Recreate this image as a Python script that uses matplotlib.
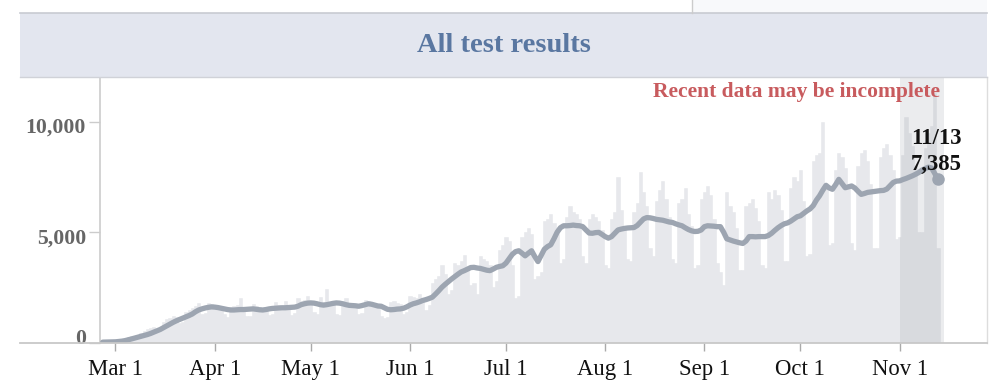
import numpy as np
import pandas as pd
import matplotlib
matplotlib.use('Agg')
import matplotlib.pyplot as plt
import matplotlib.dates as mdates
import matplotlib.transforms as mtransforms
from matplotlib.lines import Line2D
from matplotlib.patches import Rectangle

plt.rcParams['font.family'] = ['Liberation Serif', 'DejaVu Serif']

# daily test results, starting Wed Feb 26 2020 (rows are Sun..Sat weeks)
first_day = '2020-02-26'
daily_tests = [
    30, 45, 40, 25,
    35, 80, 130, 190, 260, 320, 230,
    280, 450, 520, 600, 660, 720, 560,
    640, 950, 1050, 1120, 1200, 1150, 900,
    950, 1400, 1500, 1550, 1650, 1800, 1300,
    1350, 1800, 1750, 1700, 1650, 1600, 1300,
    1150, 1600, 1650, 1700, 2000, 1500, 1200,
    1200, 1750, 1650, 1600, 1550, 1500, 1250,
    1300, 1850, 1700, 1650, 1900, 1600, 1250,
    1350, 2000, 1900, 1950, 2100, 1800, 1400,
    1300, 2050, 1850, 2450, 1800, 1750, 1300,
    1250, 1900, 2000, 1800, 1750, 1700, 1300,
    1350, 1950, 1900, 1850, 1800, 1700, 1200,
    1100, 1150, 1850, 1900, 1800, 1750, 1300,
    1400, 2100, 2050, 2000, 2200, 2000, 1500,
    1700, 2700, 2900, 3000, 3500, 3100, 2200,
    2400, 3600, 3500, 3700, 3950, 3400, 2600,
    2700, 2200, 3900, 3800, 3700, 3500, 2500,
    2800, 4200, 4400, 4800, 4600, 3500, 2000,
    2100, 4800, 5000, 5200, 4900, 2900, 3000,
    3200, 5500, 5600, 5800, 5400, 5200, 3600,
    3800, 5700, 6200, 5900, 5800, 5600, 3900,
    3600, 5600, 5800, 5700, 5500, 5100, 3500,
    3400, 5600, 5900, 7500, 6000, 5300, 3800,
    3700, 5900, 6300, 7700, 6800, 6200, 4300,
    3900, 6400, 6900, 7300, 6500, 5700, 3800,
    3600, 6300, 6500, 7000, 5800, 5300, 3400,
    3500, 6500, 6800, 7100, 6700, 5600, 3600,
    3200, 2600, 6800, 6200, 5900, 5200, 3300,
    3300, 6200, 6300, 6500, 6100, 5500, 3500,
    3400, 6800, 6500, 6900, 6700, 6000, 3700,
    3700, 7000, 7500, 7300, 7800, 6400, 3900,
    4000, 8200, 8500, 8600, 10000, 7000, 4400,
    4500, 7800, 8600, 8400, 7900, 7200, 4500,
    4200, 8000, 8600, 8700, 8200, 7200, 4300,
    4300, 8400, 8800, 9000, 8500, 7800, 4700,
    4800, 8500, 10200, 9500, 8900, 8000, 5000,
    5000, 8800, 9500, 9800, 11300, 4300,
]

# 7-day average as drawn on the chart
avg_tests = [
    25, 28, 30, 32,
    40, 55, 70, 95, 130, 170, 210,
    250, 290, 330, 370, 420, 480, 540,
    600, 680, 760, 840, 920, 990, 1050,
    1110, 1170, 1230, 1300, 1400, 1480, 1530,
    1570, 1600, 1620, 1610, 1590, 1560, 1530,
    1500, 1480, 1480, 1490, 1500, 1500, 1510,
    1520, 1530, 1510, 1490, 1480, 1500, 1530,
    1550, 1560, 1570, 1580, 1580, 1590, 1600,
    1610, 1650, 1720, 1760, 1790, 1800, 1790,
    1760, 1720, 1700, 1720, 1750, 1780, 1800,
    1790, 1760, 1720, 1690, 1680, 1670, 1650,
    1680, 1720, 1760, 1740, 1700, 1660, 1650,
    1580, 1510, 1490, 1500, 1520, 1530, 1560,
    1620, 1700, 1760, 1800, 1850, 1910, 1950,
    2000, 2060, 2200, 2350, 2510, 2640, 2760,
    2880, 2990, 3100, 3200, 3260, 3330, 3400,
    3410, 3380, 3360, 3320, 3280, 3260, 3330,
    3410, 3450, 3480, 3600, 3800, 4000, 4120,
    4160, 4050, 3930, 4050, 4160, 3900, 3670,
    3950, 4230, 4350, 4430, 4700, 5000, 5200,
    5290, 5290, 5300, 5320, 5300, 5290, 5250,
    5100, 4960, 4950, 4980, 4990, 4900, 4800,
    4730, 4800, 4950, 5100, 5140, 5170, 5190,
    5200, 5210, 5300, 5450, 5600, 5660, 5650,
    5620, 5580, 5560, 5540, 5500, 5460, 5440,
    5380, 5330, 5290, 5200, 5120, 5060, 5030,
    5040, 5100, 5250, 5290, 5280, 5270, 5250,
    5250, 5000, 4700, 4650, 4600, 4560, 4520,
    4490, 4600, 4800, 4800, 4790, 4800, 4800,
    4800, 4850, 4950, 5080, 5200, 5300, 5380,
    5420, 5500, 5600, 5700, 5740, 5850, 5960,
    6050, 6200, 6450, 6650, 6900, 7120, 7000,
    6940, 7150, 7390, 7200, 7010, 7050, 7090,
    7000, 6850, 6710, 6750, 6800, 6820, 6840,
    6860, 6880, 6890, 6950, 7100, 7250, 7310,
    7320, 7380, 7430, 7490, 7550, 7620, 7700,
    7810, 7880, 7940, 7900, 7650, 7385,
]

month_ticks = ['2020-03-01', '2020-04-01', '2020-05-01', '2020-06-01',
               '2020-07-01', '2020-08-01', '2020-09-01', '2020-10-01',
               '2020-11-01']
month_labels = ['Mar 1', 'Apr 1', 'May 1', 'Jun 1', 'Jul 1', 'Aug 1',
                'Sep 1', 'Oct 1', 'Nov 1']
y_ticks = [0, 5000, 10000]
recent_start, recent_end = '2020-11-01', '2020-11-15'

dates = pd.date_range(first_day, periods=len(daily_tests), freq='D')

W, H = 996, 390
fig = plt.figure(figsize=(W / 100, H / 100), dpi=100)
fig.patch.set_facecolor('white')

# pixel helpers for figure-level decoration
def fx(px):
    return px / W

def fy(py):
    return (H - py) / H

ax = fig.add_axes([fx(100), fy(342.7), fx(987) - fx(100), fy(77) - fy(342.7)])

ax.bar(dates, daily_tests, width=1.0, color='#e7e8ec', edgecolor='#e7e8ec',
       linewidth=0.4, zorder=1)
ax.axvspan(pd.Timestamp(recent_start), pd.Timestamp(recent_end),
           color='#9fa2aa', alpha=0.2, lw=0, zorder=2)
ax.plot(dates, avg_tests, color='#9da5b1', lw=3.8, solid_capstyle='round',
        solid_joinstyle='round', zorder=3)
ax.plot(dates[-1], avg_tests[-1], 'o', ms=8, color='#9da5b1', zorder=4)

ax.annotate(f'{avg_tests[-1]:,}', (dates[-1], avg_tests[-1]),
            xytext=(-2, 15), textcoords='offset pixels', ha='center',
            va='center', fontsize=16.4, fontweight='bold', color='#111111')
ax.annotate(dates[-1].strftime('%m/%d'), (dates[-1], avg_tests[-1]),
            xytext=(-2, 41), textcoords='offset pixels', ha='center',
            va='center', fontsize=16.4, fontweight='bold', color='#111111')

start = mdates.date2num(pd.Timestamp('2020-03-01'))
ax.set_xlim(start - 4.84, start + 272.3)
ax.set_ylim(0, 12020)

ax.set_xticks(pd.to_datetime(month_ticks))
ax.set_xticklabels(month_labels)
ax.set_yticks(y_ticks)
ax.set_yticklabels([f'{v:,}' for v in y_ticks])
ax.tick_params(axis='x', length=6, width=1, color='#aaaaaa', pad=6,
               labelsize=16.4, labelcolor='#111111')
ax.tick_params(axis='y', length=8, width=1, color='#cccccc', pad=2,
               labelsize=15.7, labelcolor='#666666')
# y labels sit a little below their ticks, the zero label above the baseline
label_shift = [6, -4, -3]
for lab, dy in zip(ax.get_yticklabels(), label_shift):
    lab.set_fontweight('bold')
    lab.set_transform(lab.get_transform() +
                      mtransforms.ScaledTranslation(0, dy / 100, fig.dpi_scale_trans))

for side in ['top', 'bottom']:
    ax.spines[side].set_visible(False)
ax.spines['left'].set_color('#cccccc')
ax.spines['left'].set_linewidth(1.2)
ax.spines['right'].set_color('#dddddd')
ax.spines['right'].set_linewidth(1.0)

# x axis baseline runs past the y axis to the panel edge
fig.add_artist(Line2D([fx(20), fx(987)], [fy(342.7), fy(342.7)],
                      color='#c8c8c8', lw=1.3))

# title band
fig.add_artist(Rectangle((fx(20), fy(77)), fx(987) - fx(20), fy(13) - fy(77),
                         facecolor='#e3e6ef', edgecolor='none'))
fig.add_artist(Line2D([fx(20), fx(987)], [fy(13), fy(13)], color='#c8cbd2', lw=1.2))
fig.add_artist(Line2D([fx(20), fx(987)], [fy(77), fy(77)], color='#d0d2d8', lw=1.0))
fig.text(fx(503.5), fy(46), 'All test results', ha='center', va='center',
         fontsize=20.5, fontweight='bold', color='#5a77a1')

# cut-off box above the band
fig.add_artist(Rectangle((fx(692), fy(13)), fx(987) - fx(692), fy(0) - fy(13),
                         facecolor='#f8f9fb', edgecolor='none'))
fig.add_artist(Line2D([fx(692), fx(692)], [fy(0), fy(13)], color='#cccccc', lw=1.0))

fig.text(fx(940), fy(92), 'Recent data may be incomplete', ha='right',
         va='center', fontsize=15.5, fontweight='bold', color='#c85b5e')

fig.savefig('out.png', dpi=100)
